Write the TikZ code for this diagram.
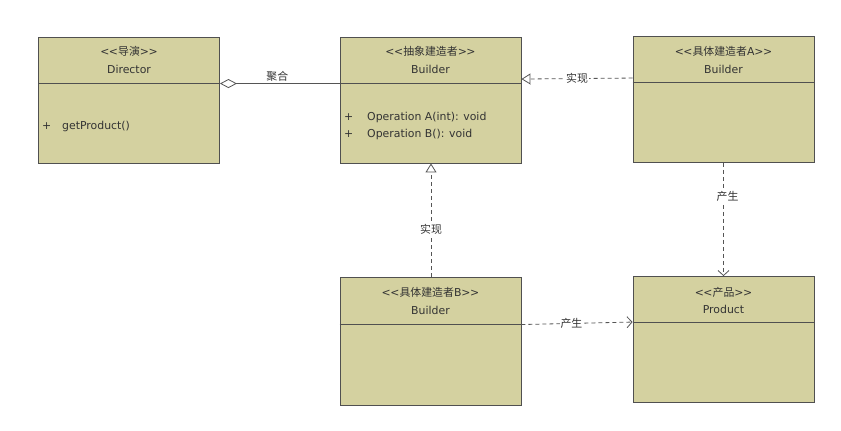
\documentclass[tikz,border=0pt]{standalone}
\usepackage{fontspec}
\setmainfont{DejaVu Sans}
\newfontfamily\cjk{Noto Sans CJK SC}
\usetikzlibrary{arrows.meta}
\newcommand\myll{<\kern-0.5pt<}
\newcommand\mygg{>\kern-0.5pt>}
\definecolor{boxfill}{HTML}{D4D1A0}
\definecolor{boxline}{HTML}{505050}
\definecolor{conn}{HTML}{555555}
\definecolor{txtc}{HTML}{333333}
\tikzset{
  cls/.style={draw=boxline, fill=boxfill, line width=0.9pt, minimum width=181pt, minimum height=126pt, inner sep=0pt},
  txt/.style={font=\fontsize{10.9}{12}\selectfont, text=txtc, inner sep=0pt},
  divline/.style={draw=boxline, line width=0.9pt},
  realize/.style={draw=conn, line width=0.8pt, dash pattern=on 4pt off 3pt, -{Triangle[open, fill=white, length=9pt, width=11pt]}},
  produce/.style={draw=conn, line width=0.8pt, dash pattern=on 4pt off 3pt, -{Straight Barb[length=5pt, width=11pt]}},
  aggreg/.style={draw=conn, line width=0.8pt, -{Diamond[open, fill=white, length=17pt, width=9pt]}},
  lbl/.style={font=\fontsize{10.9}{12}\selectfont\cjk, text=txtc, fill=white, inner sep=1pt}
}
\begin{document}
\begin{tikzpicture}[x=1pt, y=-1pt]
\useasboundingbox (0,0) rectangle (841,431);
% classes
\node[cls] (dir) at (129,100) {};
\node[cls] (bld) at (430.5,100) {};
\node[cls] (bA) at (723.5,99.5) {};
\node[cls, minimum height=128pt] (bB) at (430.5,341) {};
\node[cls] (prod) at (723.5,339.5) {};
% dividers
\coordinate (dirL) at ([yshift=-47pt]dir.north west);
\coordinate (dirR) at ([yshift=-47pt]dir.north east);
\coordinate (bldL) at ([yshift=-47pt]bld.north west);
\coordinate (bldR) at ([yshift=-47pt]bld.north east);
\coordinate (bAL) at ([yshift=-46pt]bA.north west);
\coordinate (bAR) at ([yshift=-46pt]bA.north east);
\coordinate (bBL) at ([yshift=-48pt]bB.north west);
\coordinate (bBR) at ([yshift=-48pt]bB.north east);
\coordinate (prL) at ([yshift=-46pt]prod.north west);
\coordinate (prR) at ([yshift=-46pt]prod.north east);
\draw[divline] (dirL) -- (dirR);
\draw[divline] (bldL) -- (bldR);
\draw[divline] (bAL) -- (bAR);
\draw[divline] (bBL) -- (bBR);
\draw[divline] (prL) -- (prR);
% titles
\node[txt] (dirS) at ([yshift=-15pt]dir.north) {\myll{\cjk 导演}\mygg};
\node[txt] (dirN) at ([yshift=-33pt]dir.north) {Director};
\node[txt] (bldS) at ([yshift=-15pt]bld.north) {\myll{\cjk 抽象建造者}\mygg};
\node[txt] (bldN) at ([yshift=-33pt]bld.north) {Builder};
\node[txt] (bAS) at ([yshift=-15pt]bA.north) {\myll{\cjk 具体建造者}A\mygg};
\node[txt] (bAN) at ([yshift=-33pt]bA.north) {Builder};
\node[txt] (bBS) at ([yshift=-16pt]bB.north) {\myll{\cjk 具体建造者}B\mygg};
\node[txt] (bBN) at ([yshift=-34pt]bB.north) {Builder};
\node[txt] (prS) at ([yshift=-16pt]prod.north) {\myll{\cjk 产品}\mygg};
\node[txt] (prN) at ([yshift=-33pt]prod.north) {Product};
% members
\node[txt, anchor=west] (dirP) at (42,126) {+};
\node[txt, anchor=west] (dirM) at (62,126) {getProduct()};
\node[txt, anchor=west] (bldP1) at (344,117) {+};
\node[txt, anchor=west] (bldM1) at (367,117) {Operation A(int): void};
\node[txt, anchor=west] (bldP2) at (344,134) {+};
\node[txt, anchor=west] (bldM2) at (367,134) {Operation B(): void};
% connectors
\draw[aggreg] (bldL) -- node[pos=0.52, above, yshift=2pt, txt, font=\fontsize{10.9}{12}\selectfont\cjk] (aggL) {聚合} (dirR |- bldL);
\draw[realize] ([yshift=-42pt]bA.north west) -- node[lbl] (rA) {实现} ([yshift=-42.5pt]bld.north east);
\draw[realize] ([xshift=0.5pt]bB.north) -- node[pos=0.42, lbl] (rB) {实现} ([xshift=0.5pt]bld.south);
\draw[produce] (bA.south) -- node[pos=0.3, lbl, xshift=4pt] (pA) {产生} (prod.north);
\draw[produce] (bBR) -- node[pos=0.45, lbl] (pB) {产生} (prL);
\end{tikzpicture}
\end{document}
